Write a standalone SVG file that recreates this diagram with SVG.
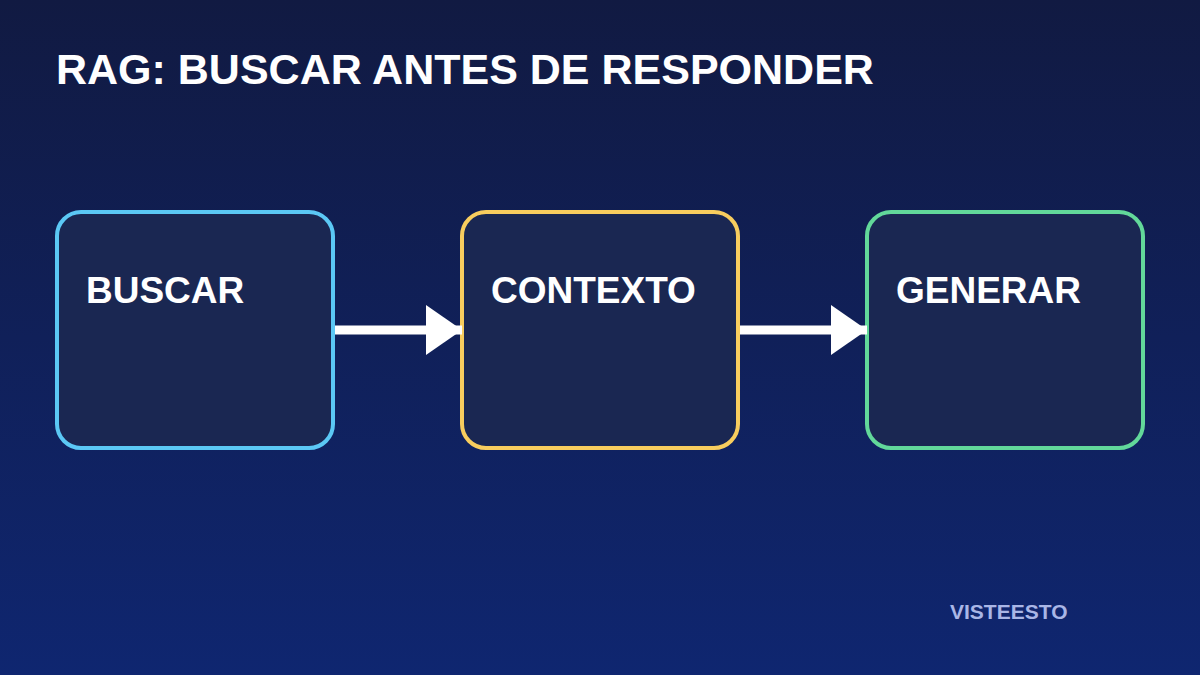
<svg xmlns="http://www.w3.org/2000/svg" width="1200" height="675" viewBox="0 0 1200 675">
<defs>
<linearGradient id="bg" x1="0" y1="0" x2="0" y2="1"><stop offset="0" stop-color="#111a42"/><stop offset="1" stop-color="#0f2670"/></linearGradient>
<marker id="ah" markerWidth="36" markerHeight="50" refX="36" refY="25" orient="auto" markerUnits="userSpaceOnUse"><path d="M0,0 L36,25 L0,50 Z" fill="#fff"/></marker>
</defs>
<style>
.box{fill:#1a2752;stroke-width:4}
.lbl{font-family:"Liberation Sans",Arial,sans-serif;font-weight:bold;font-size:37px;fill:#fff}
.conn{stroke:#fff;stroke-width:9;fill:none}
</style>
<rect width="1200" height="675" fill="url(#bg)"/>
<text x="56" y="84" class="lbl" style="font-size:43px">RAG: BUSCAR ANTES DE RESPONDER</text>
<g id="buscar"><rect class="box" x="57" y="212" width="276" height="236" rx="24" stroke="#5bc8f5"/><text x="86" y="303" class="lbl">BUSCAR</text></g>
<g id="contexto"><rect class="box" x="462" y="212" width="276" height="236" rx="24" stroke="#f8cd5e"/><text x="491" y="303" class="lbl">CONTEXTO</text></g>
<g id="generar"><rect class="box" x="867" y="212" width="276" height="236" rx="24" stroke="#62d89a"/><text x="896" y="303" class="lbl">GENERAR</text></g>
<g id="connectors">
<line class="conn" x1="335" y1="330" x2="462" y2="330" marker-end="url(#ah)"/>
<line class="conn" x1="740" y1="330" x2="867" y2="330" marker-end="url(#ah)"/>
</g>
<text x="950" y="619" font-family="Liberation Sans,Arial,sans-serif" font-weight="bold" font-size="21" fill="#a9b6e6">VISTEESTO</text>
</svg>
